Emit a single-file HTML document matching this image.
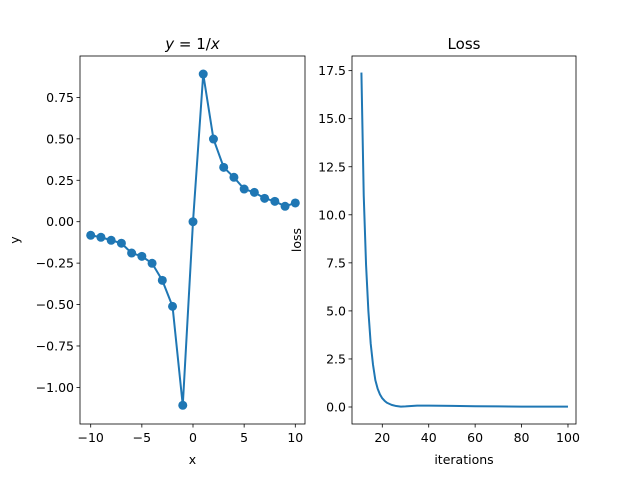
<!DOCTYPE html>
<html><head><meta charset="utf-8"><style>
html,body{margin:0;padding:0;background:#fff}
svg text{font-family:"DejaVu Sans","Liberation Sans",sans-serif;fill:#000}
</style></head><body>
<svg id="fig" width="640" height="476" viewBox="0 0 640 476" xmlns="http://www.w3.org/2000/svg">
<rect width="640" height="476" fill="#fff"/>
<g id="left"></g>
<g id="right"></g>
</svg>
<script>
const xVals = [-10,-9,-8,-7,-6,-5,-4,-3,-2,-1,0,1,2,3,4,5,6,7,8,9,10];
const yVals = [-0.082,-0.094,-0.112,-0.13,-0.189,-0.209,-0.251,-0.354,-0.511,-1.108,0,0.891,0.499,0.328,0.268,0.197,0.177,0.141,0.123,0.093,0.113];
const leftXTicks = [-10,-5,0,5,10];
const leftYTicks = [0.75,0.5,0.25,0,-0.25,-0.5,-0.75,-1.0];
const leftYTickLabels = ["0.75","0.50","0.25","0.00","\u22120.25","\u22120.50","\u22120.75","\u22121.00"];
const iters = [11,12,13,14,15,16,17,18,19,20,21,22,24,26,28,30,35,40,50,60,70,80,90,100];
const losses = [17.4,11.0,7.4,5.0,3.3,2.2,1.4,0.95,0.65,0.45,0.32,0.22,0.11,0.05,0.02,0.03,0.07,0.07,0.06,0.04,0.03,0.02,0.02,0.02];
const rightXTicks = [20,40,60,80,100];
const rightYTicks = [0,2.5,5,7.5,10,12.5,15,17.5];
const rightYTickLabels = ["0.0","2.5","5.0","7.5","10.0","12.5","15.0","17.5"];

const NS="http://www.w3.org/2000/svg";
function mk(parent,tag,attrs,text){const e=document.createElementNS(NS,tag);for(const k in attrs)e.setAttribute(k,attrs[k]);if(text!==undefined)e.textContent=text;parent.appendChild(e);return e;}

function drawAxes(g,box,sx,sy,xt,xtl,yt,ytl,title,xlabel,ylabel,ylabelX,prefix){
  const fr=mk(g,'rect',{x:box.l,y:box.t,width:box.r-box.l,height:box.b-box.t,fill:'none',stroke:'#000','stroke-width':0.8});
  
  
  xt.forEach((v,i)=>{
    const x=sx(v);
    mk(g,'line',{x1:x,x2:x,y1:box.b,y2:box.b+3.5,stroke:'#000','stroke-width':0.8});
    const t=mk(g,'text',{x:x,y:box.b+18,'font-size':12.5,'text-anchor':'middle'},xtl[i]);
    
    
  });
  yt.forEach((v,i)=>{
    const y=sy(v);
    mk(g,'line',{x1:box.l-3.5,x2:box.l,y1:y,y2:y,stroke:'#000','stroke-width':0.8});
    const t=mk(g,'text',{x:box.l-6,y:y+4.5,'font-size':12.5,'text-anchor':'end'},ytl[i]);
    
    
  });
  const tt=mk(g,'text',{x:(box.l+box.r)/2,y:49,'font-size':15,'text-anchor':'middle'});
  tt.innerHTML=title;
  
  
  const xl=mk(g,'text',{x:(box.l+box.r)/2,y:464,'font-size':12.5,'text-anchor':'middle'},xlabel);
  
  
  const yl=mk(g,'text',{x:ylabelX,y:(box.t+box.b)/2,'font-size':12.5,'text-anchor':'middle',transform:`rotate(-90 ${ylabelX} ${(box.t+box.b)/2})`},ylabel);
  
  
}

// Left chart
const L={l:80,r:305,t:56,b:424};
const lsx=v=>193+v*10.23;
const lsy=v=>221.7-v*165.7;
const gl=document.getElementById('left');
drawAxes(gl,L,lsx,lsy,leftXTicks,leftXTicks.map(v=>v<0?'\u2212'+(-v):''+v),leftYTicks,leftYTickLabels,
  '<tspan font-style="italic">y</tspan> = 1/<tspan font-style="italic">x</tspan>','x','y',19,'left');
const lp=mk(gl,'polyline',{points:xVals.map((x,i)=>lsx(x)+','+lsy(yVals[i])).join(' '),fill:'none',stroke:'#1f77b4','stroke-width':2});


xVals.forEach((x,i)=>{
  const c=mk(gl,'circle',{cx:lsx(x),cy:lsy(yVals[i]),r:4.5,fill:'#1f77b4'});
  
  
});

// Right chart
const R={l:352,r:576,t:56,b:424};
const rsx=v=>382.3+(v-20)*2.321;
const rsy=v=>407-v*19.22;
const gr=document.getElementById('right');
drawAxes(gr,R,rsx,rsy,rightXTicks,rightXTicks.map(String),rightYTicks,rightYTickLabels,'Loss','iterations','loss',301,'right');
const rp=mk(gr,'polyline',{points:iters.map((x,i)=>rsx(x)+','+rsy(losses[i])).join(' '),fill:'none',stroke:'#1f77b4','stroke-width':2,'stroke-linejoin':'round'});


</script>
</body></html>
